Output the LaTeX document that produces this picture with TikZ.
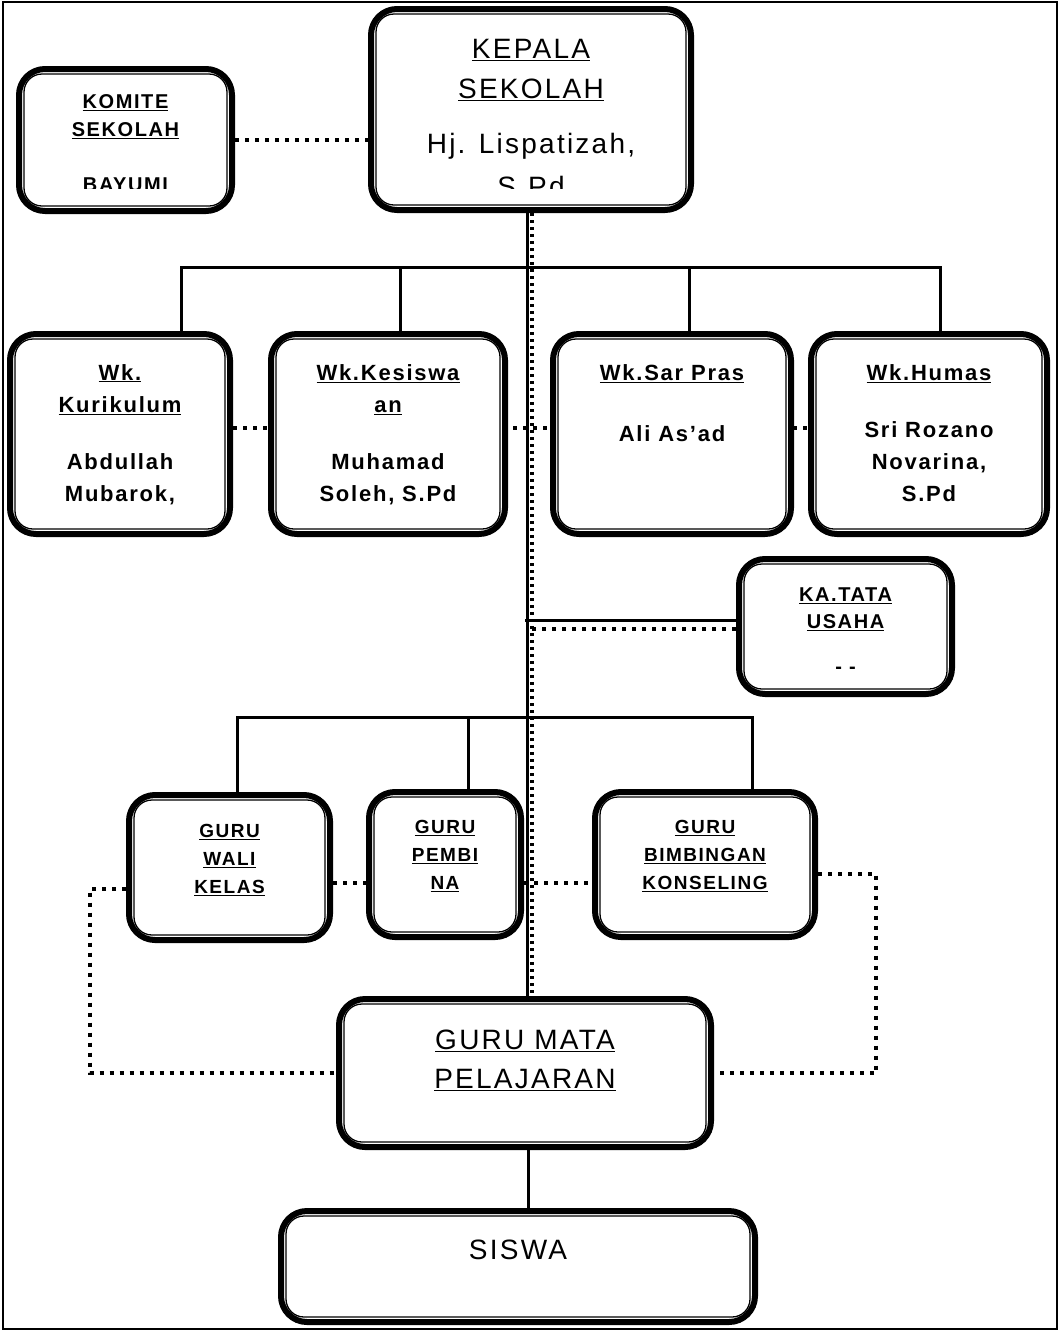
\documentclass[tikz,border=0pt]{standalone}
\usepackage{fontspec}
\setmainfont{Liberation Sans}[LetterSpace=8]
\usetikzlibrary{positioning,backgrounds}

\begin{document}
\begin{tikzpicture}[x=1pt,y=-1pt,
  box/.style={draw,fill=white,line width=6pt,rounded corners=26pt},
  innerline/.style={line width=1.3pt,rounded corners=18pt},
  txt/.style={inner sep=0pt,align=center},
  solidline/.style={line width=3pt},
  dotline/.style={line width=4pt,dash pattern=on 4pt off 6pt}]

\useasboundingbox (0,0) rectangle (1059,1331);
\draw[line width=2pt] (3,2) rectangle (1057,1329);

\node[box,minimum width=320pt,minimum height=201pt] (kepala) at (531,109.5) {};
\node[box,minimum width=213pt,minimum height=142pt] (komite) at (125.5,140) {};

\node[box,minimum width=220pt,minimum height=200pt] (kurikulum) at (120,434) {};
\node[box,minimum width=234pt,minimum height=200pt] (kesiswaan) at (388,434) {};
\node[box,minimum width=238pt,minimum height=200pt] (sarpras) at (672,434) {};
\node[box,minimum width=236pt,minimum height=200pt] (humas) at (929,434) {};

\node[box,minimum width=213pt,minimum height=135pt] (tatausaha) at (845.5,626.5) {};

\node[box,minimum width=201pt,minimum height=145pt] (walikelas) at (229.5,867.5) {};
\node[box,minimum width=152pt,minimum height=145pt] (pembina) at (445,864.5) {};
\node[box,minimum width=220pt,minimum height=145pt] (bk) at (705,864.5) {};

\node[box,minimum width=372pt,minimum height=148pt] (mapel) at (525,1073) {};
\node[box,minimum width=474pt,minimum height=111pt] (siswa) at (518,1266.5) {};

\foreach \n in {kepala,komite,kurikulum,kesiswaan,sarpras,humas,tatausaha,walikelas,pembina,bk,mapel,siswa}
  \draw[innerline] ([shift={(8pt,-8pt)}]\n.north west) rectangle ([shift={(-8pt,8pt)}]\n.south east);

\begin{scope}
  \clip (kepala.north west) rectangle ([yshift=25pt]kepala.south east);
  \node[txt,font=\fontsize{28}{40}\selectfont,below=33pt of kepala.north] (kepala-t)
    {\underline{KEPALA}\\\underline{SEKOLAH}\\[15pt]Hj. Lispatizah,\\[3pt]S.Pd};
\end{scope}
\begin{scope}
  \clip (komite.north west) rectangle ([yshift=26pt]komite.south east);
  \node[txt,font=\fontsize{20}{28}\selectfont\bfseries,below=28pt of komite.north] (komite-t)
    {\underline{KOMITE}\\\underline{SEKOLAH}\\[27pt]BAYUMI};
\end{scope}

\node[txt,font=\fontsize{22}{32}\selectfont\bfseries,below=33pt of kurikulum.north] (kurikulum-t)
  {\underline{Wk.}\\\underline{Kurikulum}\\[25pt]Abdullah\\Mubarok,};
\node[txt,font=\fontsize{22}{32}\selectfont\bfseries,below=33pt of kesiswaan.north] (kesiswaan-t)
  {\underline{Wk.Kesiswa}\\\underline{an}\\[25pt]Muhamad\\Soleh, S.Pd};
\node[txt,font=\fontsize{22}{32}\selectfont\bfseries,below=33pt of sarpras.north] (sarpras-t)
  {\underline{Wk.Sar Pras}\\[29pt]Ali As’ad};
\node[txt,font=\fontsize{22}{32}\selectfont\bfseries,below=33pt of humas.north] (humas-t)
  {\underline{Wk.Humas}\\[25pt]Sri Rozano\\Novarina,\\S.Pd};

\node[txt,font=\fontsize{20}{27}\selectfont\bfseries,below=32pt of tatausaha.north] (tatausaha-t)
  {\underline{KA.TATA}\\\underline{USAHA}\\[18pt]- -};

\node[txt,font=\fontsize{19}{28}\selectfont\bfseries,below=32pt of walikelas.north] (walikelas-t)
  {\underline{GURU}\\\underline{WALI}\\\underline{KELAS}};
\node[txt,font=\fontsize{19}{28}\selectfont\bfseries,below=31pt of pembina.north] (pembina-t)
  {\underline{GURU}\\\underline{PEMBI}\\\underline{NA}};
\node[txt,font=\fontsize{19}{28}\selectfont\bfseries,below=31pt of bk.north] (bk-t)
  {\underline{GURU}\\\underline{BIMBINGAN}\\\underline{KONSELING}};

\node[txt,font=\fontsize{28}{39}\selectfont,below=34pt of mapel.north] (mapel-t)
  {\underline{GURU MATA}\\\underline{PELAJARAN}};
\node[txt,font=\fontsize{28}{39}\selectfont,below=32pt of siswa.north] (siswa-t) {SISWA};

\begin{pgfonlayer}{background}
\draw[dotline] (komite.east) -- (komite.east -| kepala.west);
\draw[solidline] ([xshift=-3.5pt]kepala.south) -- ([xshift=-3.5pt]kepala.south |- mapel.north);
\draw[line width=4pt,dash pattern=on 3pt off 4pt] ([xshift=1pt]kepala.south) -- ([xshift=1pt]kepala.south |- mapel.north);

\draw[solidline] ([xshift=61pt]kurikulum.north) -- ++(0,-64) -| ([xshift=11pt]humas.north);
\draw[solidline] ([xshift=12pt]kesiswaan.north) -- ++(0,-64);
\draw[solidline] ([xshift=17pt]sarpras.north) -- ++(0,-64);
\draw[dotline] ([yshift=6pt]kurikulum.east) -- ([yshift=6pt]humas.west);

\draw[solidline] ([yshift=6.5pt]tatausaha.west) -- ++(-211,0);
\draw[dotline] ([yshift=-2.5pt]tatausaha.west) -- ++(-206,0);

\draw[solidline] ([xshift=7.5pt]walikelas.north) -- ++(0,-75) -| ([xshift=47pt]bk.north);
\draw[solidline] ([xshift=23pt]pembina.north) -- ++(0,-72);

\draw[dotline] ([yshift=-15pt]walikelas.east) -- ++(39,0);
\draw[dotline] ([yshift=-18.5pt]pembina.east) -- ++(74,0);
\draw[dotline] ([yshift=-21pt]walikelas.west) -- ++(-36,0) |- (mapel.west);
\draw[dotline] ([yshift=-9pt]bk.east) -- ++(58,0) |- (mapel.east);

\draw[solidline] ([xshift=3pt]mapel.south) -- ([xshift=3pt]mapel.south |- siswa.north);
\end{pgfonlayer}
\end{tikzpicture}
\end{document}
